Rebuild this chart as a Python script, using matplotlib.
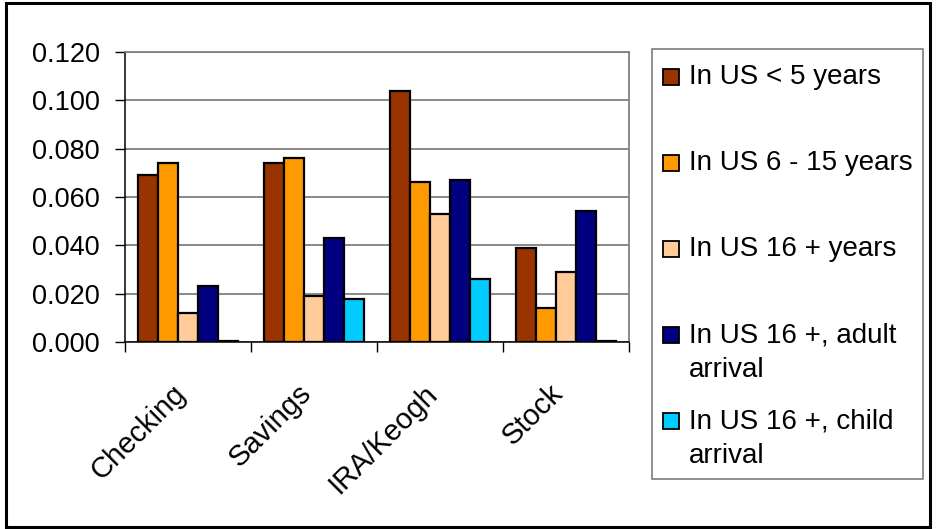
import matplotlib
matplotlib.use("Agg")
import matplotlib.pyplot as plt
import matplotlib.patches as patches
from matplotlib.transforms import ScaledTranslation
import numpy as np

plt.rcParams["font.family"] = ["Liberation Sans", "DejaVu Sans"]

# data
categories = ["Checking", "Savings", "IRA/Keogh", "Stock"]
series_names = [
    "In US < 5 years",
    "In US 6 - 15 years",
    "In US 16 + years",
    "In US 16 +, adult\narrival",
    "In US 16 +, child\narrival",
]
lt5_years = [0.069, 0.074, 0.104, 0.039]
y6_15_years = [0.074, 0.076, 0.066, 0.014]
y16_plus = [0.012, 0.019, 0.053, 0.029]
y16_adult = [0.023, 0.043, 0.067, 0.054]
y16_child = [0.0006, 0.018, 0.026, 0.0006]
yticks = [0.000, 0.020, 0.040, 0.060, 0.080, 0.100, 0.120]

series = [lt5_years, y6_15_years, y16_plus, y16_adult, y16_child]
colors = ["#993300", "#FF9900", "#FFCC99", "#000080", "#00CCFF"]

W, H = 936, 529
fig = plt.figure(figsize=(W / 100, H / 100), dpi=100)
ax = fig.add_axes([125 / W, 1 - 342 / H, (629 - 125) / W, (342 - 52) / H])

x = np.arange(len(categories))
bar_w = 0.158
for i, (vals, col) in enumerate(zip(series, colors)):
    offs = (i - 2) * bar_w
    ax.bar(x + offs, vals, width=bar_w, color=col, edgecolor="black",
           linewidth=1.6, zorder=3)

ax.set_xlim(-0.5, len(categories) - 0.5)
ax.set_ylim(0, 0.12)
ax.set_yticks(yticks)
ax.set_yticklabels([f"{v:.3f}" for v in yticks], fontsize=19.5)
ax.yaxis.grid(True, color="#6a6a6a", linewidth=1.1, zorder=0)
ax.set_axisbelow(True)

# labels at category centres, tick marks at the boundaries
ax.set_xticks(x)
ax.set_xticklabels(categories, fontsize=21, rotation=45, ha="right",
                   va="center", rotation_mode="anchor")
ax.tick_params(axis="x", which="major", length=0, pad=34)
shift = ScaledTranslation(-0.07, 0.0, fig.dpi_scale_trans)
for lab in ax.get_xticklabels():
    lab.set_transform(lab.get_transform() + shift)
ax.set_xticks(np.arange(len(categories) + 1) - 0.5, minor=True)
ax.tick_params(axis="x", which="minor", length=7, width=1, color="black")
ax.tick_params(axis="y", length=7, width=1, pad=11, color="black")

for side in ("top", "right"):
    ax.spines[side].set_color("#808080")
    ax.spines[side].set_linewidth(1.3)
for side in ("left", "bottom"):
    ax.spines[side].set_color("black")
    ax.spines[side].set_linewidth(1.1)

# legend drawn by hand so markers sit on the first line of wrapped labels
def px(xp, yp):
    return xp / W, 1 - yp / H

lx0, ly0, lx1, ly1 = 652, 49, 923, 479
fig.patches.append(patches.Rectangle(px(lx0, ly1), (lx1 - lx0) / W, (ly1 - ly0) / H,
                                     transform=fig.transFigure, fill=False,
                                     edgecolor="#707070", linewidth=1.1))
entry_y = 77
for name, col in zip(series_names, colors):
    fig.patches.append(patches.Rectangle(px(663, entry_y + 8), 16 / W, 16 / H,
                                         transform=fig.transFigure, facecolor=col,
                                         edgecolor="black", linewidth=1.3))
    for k, line in enumerate(name.split("\n")):
        fig.text(*px(689, entry_y + 7 + 35 * k), line, fontsize=20,
                 va="baseline", ha="left")
    entry_y += 86

# outer chart border
fig.patches.append(patches.Rectangle(px(5.5, 527), 924 / W, 524 / H,
                                     transform=fig.transFigure, fill=False,
                                     edgecolor="black", linewidth=2.2))

fig.savefig("out.png", dpi=100)
